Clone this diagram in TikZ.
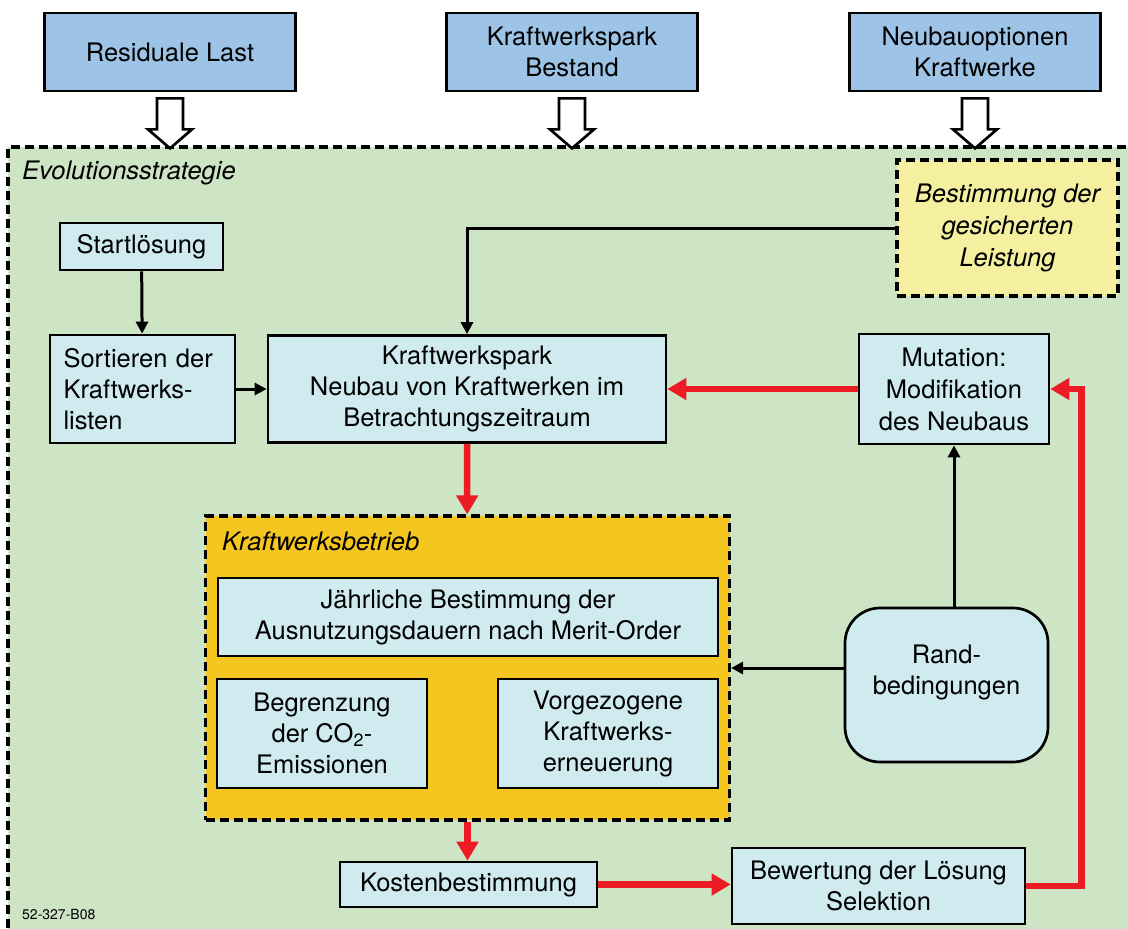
\documentclass[tikz,border=0pt]{standalone}
\usepackage{fontspec}
\setmainfont{TeX Gyre Heros}
\usetikzlibrary{arrows.meta,calc}
\definecolor{bluebox}{RGB}{157,195,230}
\definecolor{cyanbox}{RGB}{207,235,240}
\definecolor{greenbg}{RGB}{205,228,197}
\definecolor{yellowbox}{RGB}{245,240,160}
\definecolor{orangebox}{RGB}{245,197,32}
\definecolor{redarrow}{RGB}{237,28,36}
\begin{document}
\begin{tikzpicture}[x=1pt, y=-1pt, line join=miter,
  box/.style={draw, line width=2.7pt, fill=cyanbox, inner sep=0pt, align=center, font=\fontsize{25.5}{31}\selectfont},
  input box/.style={box, fill=bluebox, minimum width=251pt, minimum height=78pt},
  dash box/.style={draw, line width=3.2pt, dash pattern=on 9pt off 5pt},
  hollow/.style={draw, line width=2.7pt, fill=white},
  flow/.style={line width=3pt, -{Triangle[length=12pt,width=12pt]}},
  red flow/.style={draw=redarrow, line width=6.5pt, -{Triangle[length=19pt,width=21pt]}},
  title/.style={font=\fontsize{25.5}{30}\selectfont\itshape, anchor=west, inner sep=0pt}]
\useasboundingbox (0,0) rectangle (1128,929);
% Evolutionsstrategie
\fill[greenbg] (8,147) rectangle (1140,940);
\draw[dash box] (1140,147) -- (8,147) -- (8,940);
\node[title] (es) at (22,173) {Evolutionsstrategie};
\node[anchor=west, inner sep=0pt, font=\fontsize{14}{16}\selectfont] (nr) at (22,914) {52-327-B08};
% Eingangsdaten
\node[input box] (rl) at (170,52) {Residuale Last};
\node[input box] (kb) at (572,52) {Kraftwerkspark\\Bestand};
\node[input box] (nk) at (975,52) {Neubauoptionen\\Kraftwerke};
\foreach \n in {rl,kb,nk}
  \draw[hollow] ($(\n.south)+(-13,6)$) -- ++(26,0) -- ++(0,31) -- ++(9,0) -- ++(-22,19) -- ++(-22,-19) -- ++(9,0) -- cycle;
% Knoten
\node[box, dash box, fill=yellowbox, minimum width=221pt, minimum height=136pt, font=\fontsize{25.5}{32}\selectfont\itshape] (gl) at (1007.5,228) {Bestimmung der\\gesicherten\\Leistung};
\node[box, minimum width=163pt, minimum height=47pt] (sl) at (141.5,246.5) {Startlösung};
\node[box, minimum width=185pt, minimum height=108pt, text width=158pt, align=left] (so) at (142.5,389) {Sortieren der\\Kraftwerks-\\listen};
\node[box, minimum width=398pt, minimum height=107pt] (kp) at (467,389) {Kraftwerkspark\\Neubau von Kraftwerken im\\Betrachtungszeitraum};
\node[box, minimum width=190pt, minimum height=110pt, font=\fontsize{25.5}{32}\selectfont] (mu) at (954,389) {Mutation:\\Modifikation\\des Neubaus};
% Kraftwerksbetrieb
\node[box, dash box, fill=orangebox, minimum width=524pt, minimum height=304pt] (kbt) at (467.5,668) {};
\node[title] (kbtt) at (222,541) {Kraftwerksbetrieb};
\node[box, minimum width=500pt, minimum height=78pt] (jb) at (468,617) {Jährliche Bestimmung der\\Ausnutzungsdauern nach Merit-Order};
\node[box, minimum width=210pt, minimum height=109pt] (co) at (322,733.5) {Begrenzung\\der CO\textsubscript{2}-\\Emissionen};
\node[box, minimum width=220pt, minimum height=109pt] (ve) at (608,733.5) {Vorgezogene\\Kraftwerks-\\erneuerung};
\node[box, rounded corners=35pt, minimum width=203pt, minimum height=154pt] (rb) at (946.5,685) {Rand-\\bedingungen\\\mbox{}};
\node[box, minimum width=257pt, minimum height=45pt] (ko) at (468.5,884.5) {Kostenbestimmung};
\node[box, minimum width=293pt, minimum height=76pt] (bw) at (878.5,886) {Bewertung der Lösung\\Selektion};
% Verbindungen
\draw[flow] (gl.west) -| (kp.north);
\draw[flow] (sl) -- (so);
\draw[flow] (so) -- (kp);
\draw[flow] (mu.south |- rb.north) -- (mu.south);
\draw[flow] (rb.west |- kbt.east) -- (kbt.east);
\draw[red flow] (mu) -- (kp);
\draw[red flow] (kp) -- (kbt);
\draw[red flow] (kbt.south) -- (kbt.south |- ko.north);
\draw[red flow] (ko.east) -- (ko.east -| bw.west);
\draw[red flow] (bw.east) -- ++(55,0) |- (mu.east);
\end{tikzpicture}
\end{document}
